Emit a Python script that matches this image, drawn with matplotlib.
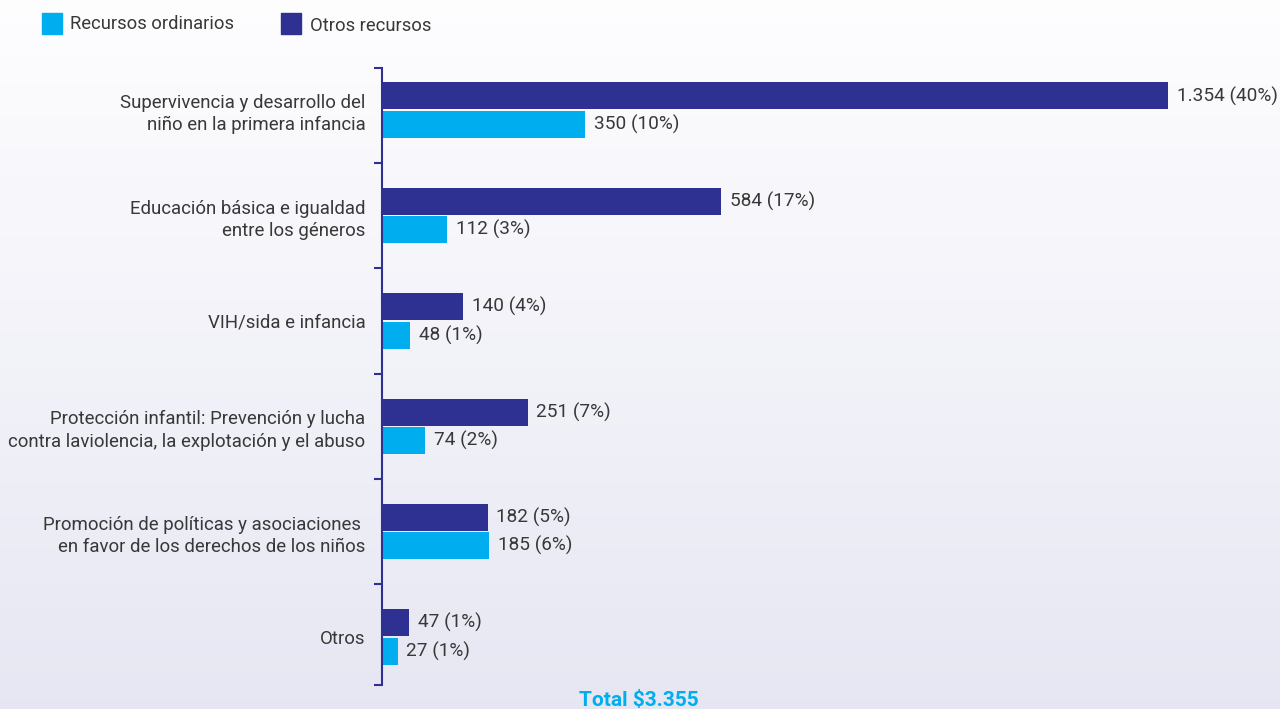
import numpy as np
import matplotlib.pyplot as plt

plt.rcParams['font.family'] = ['Roboto', 'DejaVu Sans']

categorias = [
    "Supervivencia y desarrollo del\nniño en la primera infancia",
    "Educación básica e igualdad\nentre los géneros",
    "VIH/sida e infancia",
    "Protección infantil: Prevención y lucha\ncontra laviolencia, la explotación y el abuso",
    "Promoción de políticas y asociaciones \nen favor de los derechos de los niños",
    "Otros",
]
otros = [1354, 584, 140, 251, 182, 47]
otros_pct = [40, 17, 4, 7, 5, 1]
ordinarios = [350, 112, 48, 74, 185, 27]
ordinarios_pct = [10, 3, 1, 2, 6, 1]

azul_osc = "#2e3192"
azul_cla = "#00aeef"
gris = "#383838"

W, H = 1280, 709
fig = plt.figure(figsize=(W / 100, H / 100), dpi=100)

# fondo degradado blanco -> lavanda
bg = fig.add_axes([0, 0, 1, 1], zorder=-10)
grad = np.linspace(0, 1, 256)[:, None]
top = np.array([0.995, 0.995, 1.0])
bot = np.array([0.905, 0.905, 0.953])
img = top + grad[..., None] * (bot - top)
bg.imshow(img, aspect="auto", extent=[0, 1, 0, 1], origin="upper")
bg.axis("off")

# eje principal (en pixeles: x 382..1240, y 68..685)
ax = fig.add_axes([382 / W, 1 - 685 / H, (1240 - 382) / W, (685 - 68) / H])
ax.patch.set_alpha(0)

y = np.arange(len(categorias))
h = 0.255
off = 0.135
ax.barh(y - off, otros, height=h, color=azul_osc)
ax.barh(y + off, ordinarios, height=h, color=azul_cla)

fs = 13.4
for i in range(len(categorias)):
    ax.text(otros[i] + 15, y[i] - off, f"{otros[i]:,} ({otros_pct[i]}%)".replace(",", "."),
            va="center", ha="left", fontsize=13.7, color=gris)
    ax.text(ordinarios[i] + 15, y[i] + off, f"{ordinarios[i]:,} ({ordinarios_pct[i]}%)".replace(",", "."),
            va="center", ha="left", fontsize=13.7, color=gris)

ax.set_xlim(0, (1240 - 382) / 0.5805)
ax.set_ylim(5.455, -0.4)

ax.set_yticks(y)
ax.set_yticklabels(categorias, fontsize=fs, color=gris, linespacing=1.3)
ax.tick_params(axis="y", which="major", length=0, pad=12)
ax.set_yticks([-0.4, 0.5, 1.5, 2.5, 3.5, 4.5, 5.455], minor=True)
ax.tick_params(axis="y", which="minor", length=6, width=1.5, color=azul_osc, direction="out")
ax.set_xticks([])

for s in ["top", "right", "bottom"]:
    ax.spines[s].set_visible(False)
ax.spines["left"].set_color(azul_osc)
ax.spines["left"].set_linewidth(1.5)

# leyenda
fig.patches.append(plt.Rectangle((42 / W, 1 - 34 / H), 20 / W, 21 / H, color=azul_cla, transform=fig.transFigure))
fig.text(70 / W, 1 - 24 / H, "Recursos ordinarios", fontsize=13.2, color=gris, va="center")
fig.patches.append(plt.Rectangle((281 / W, 1 - 34 / H), 20 / W, 21 / H, color=azul_osc, transform=fig.transFigure))
fig.text(310 / W, 1 - 26 / H, "Otros recursos", fontsize=13.2, color=gris, va="center")

fig.text(639 / W, 1 - 701 / H, "Total $3.355", fontsize=15, fontweight="bold", color=azul_cla,
         ha="center", va="center")

fig.savefig("out.png", dpi=100)
